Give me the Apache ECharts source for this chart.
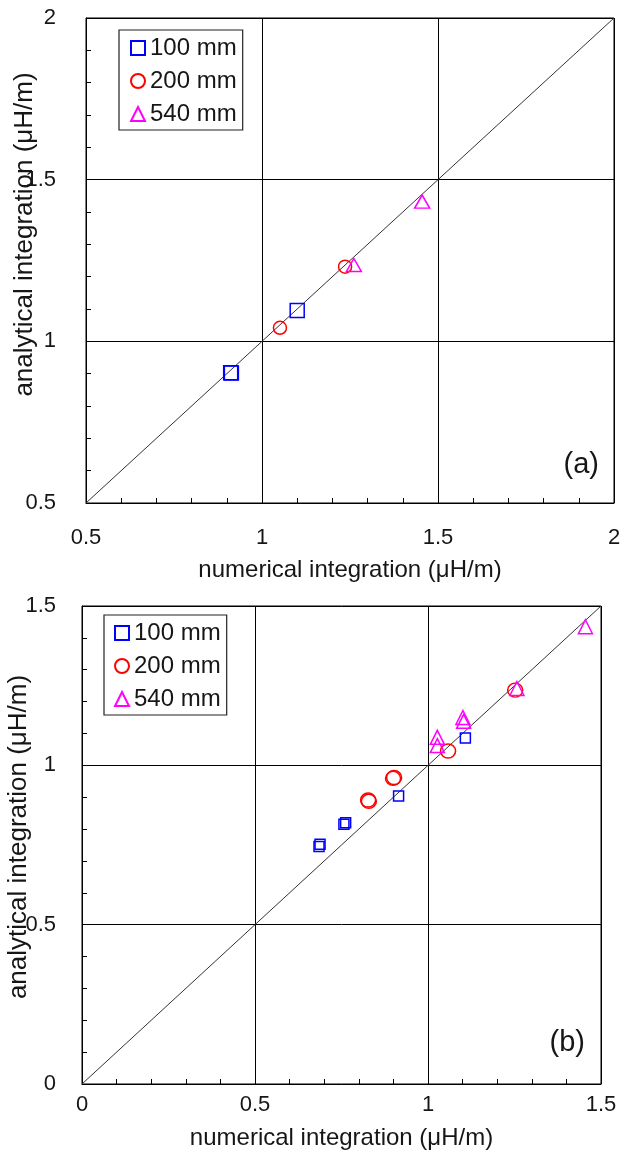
<!DOCTYPE html>
<html><head><meta charset="utf-8">
<script src="https://cdn.jsdelivr.net/npm/echarts@6/dist/echarts.min.js"></script>
<style>html,body{margin:0;padding:0;background:#fff}#c{width:626px;height:1164px}</style>
</head><body><div id="c"></div>
<script>
// ---- data ----
const seriesNames = ['100 mm', '200 mm', '540 mm'];
const rangeA = [0.5, 2];
const rangeB = [0, 1.5];
const tickStep = 0.5;
const xTitle = 'numerical integration (μH/m)';
const yTitle = 'analytical integration (μH/m)';
const panelLabels = ['(a)', '(b)'];

// panel (a)
const a100 = [[0.911, 0.903], [0.913, 0.902], [1.100, 1.095]];
const a200 = [[1.051, 1.042], [1.236, 1.231]];
const a540 = [[1.261, 1.236], [1.455, 1.432]];
const diagA = [[0.5, 0.5], [2, 2]];

// panel (b)
const b100 = [[0.685, 0.745], [0.688, 0.752], [0.757, 0.815], [0.762, 0.820], [0.915, 0.904], [1.108, 1.086]];
const b200 = [[0.827, 0.891], [0.829, 0.887], [0.899, 0.959], [0.902, 0.962], [1.058, 1.045], [1.252, 1.236]];
const b540 = [[1.027, 1.088], [1.027, 1.062], [1.101, 1.150], [1.103, 1.138], [1.257, 1.241], [1.455, 1.435]];
const diagB = [[0, 0], [1.5, 1.5]];

// ---- styling ----
const FONT = 'Liberation Sans, Arial, sans-serif';
const TXT = '#161616';
const colors = ['#0000ff', '#ff0000', '#ff00ff'];
const symbols = ['rect', 'circle', 'triangle'];

function xAxisCfg(idx, range, labelMargin, nameGap) {
  return {
    gridIndex: idx, type: 'value', min: range[0], max: range[1], interval: tickStep,
    name: xTitle, nameLocation: 'middle', nameGap: nameGap, nameMoveOverlap: false,
    nameTextStyle: { fontFamily: FONT, fontSize: 24, color: TXT },
    axisLine: { show: true, lineStyle: { color: '#000', width: 1 } },
    axisTick: { show: true, inside: true, length: 5, lineStyle: { color: '#000' } },
    minorTick: { show: true, splitNumber: 5, length: 5, lineStyle: { color: '#000' } },
    splitLine: { show: true, lineStyle: { color: '#000', width: 1 } },
    axisLabel: { fontFamily: FONT, fontSize: 22, color: TXT, margin: labelMargin, hideOverlap: false }
  };
}
function yAxisCfg(idx, range, labelMargin, nameGap, shift) {
  return {
    gridIndex: idx, type: 'value', min: range[0], max: range[1], interval: tickStep,
    name: yTitle, nameLocation: 'middle', nameGap: nameGap, nameMoveOverlap: false,
    nameTextStyle: { fontFamily: FONT, fontSize: 26, color: TXT, padding: [0, 0, 0, shift] },
    axisLine: { show: true, lineStyle: { color: '#000', width: 1 } },
    axisTick: { show: true, inside: true, length: 5, lineStyle: { color: '#000' } },
    minorTick: { show: true, splitNumber: 5, length: 5, lineStyle: { color: '#000' } },
    splitLine: { show: true, lineStyle: { color: '#000', width: 1 } },
    axisLabel: { fontFamily: FONT, fontSize: 22, color: TXT, margin: labelMargin, hideOverlap: false }
  };
}
function scatter(name, data, idx, k, size) {
  return {
    type: 'scatter', name: name, data: data, xAxisIndex: idx, yAxisIndex: idx,
    symbol: symbols[k], symbolSize: size, z: 5,
    itemStyle: { color: 'rgba(0,0,0,0)', borderColor: colors[k], borderWidth: 1.5, opacity: 1 },
    emphasis: { disabled: true }
  };
}
function diag(data, idx) {
  return {
    type: 'line', data: data, xAxisIndex: idx, yAxisIndex: idx, symbol: 'none', silent: true, z: 3,
    lineStyle: { color: '#333', width: 1 }, emphasis: { disabled: true }
  };
}
function legendCfg(left, top, padLeft) {
  return {
    orient: 'vertical', left: left, top: top, data: seriesNames,
    backgroundColor: '#fff', borderColor: '#222', borderWidth: 1.2, borderRadius: 0,
    padding: [5, 6, 3, padLeft], itemGap: 7, itemWidth: 14, itemHeight: 14, itemTextGap: 5,
    selectedMode: false,
    textStyle: { fontFamily: FONT, fontSize: 24, color: TXT, lineHeight: 26 }
  };
}

const chart = echarts.init(document.getElementById('c'), null, { renderer: 'canvas' });
chart.setOption({
  animation: false,
  backgroundColor: '#fff',
  title: [
    { text: panelLabels[0], right: 27, top: 450, padding: 0, textStyle: { fontFamily: FONT, fontSize: 29, fontWeight: 'normal', color: TXT } },
    { text: panelLabels[1], right: 41, top: 1028, padding: 0, textStyle: { fontFamily: FONT, fontSize: 29, fontWeight: 'normal', color: TXT } }
  ],
  grid: [
    { left: 86, top: 18, width: 528, height: 485, show: true, borderColor: '#000', borderWidth: 1, backgroundColor: 'transparent', outerBoundsMode: 'none', containLabel: false },
    { left: 82, top: 606, width: 519, height: 478, show: true, borderColor: '#000', borderWidth: 1, backgroundColor: 'transparent', outerBoundsMode: 'none', containLabel: false }
  ],
  xAxis: [xAxisCfg(0, rangeA, 24, 55), xAxisCfg(1, rangeB, 10, 42)],
  yAxis: [yAxisCfg(0, rangeA, 30, 48, 52), yAxisCfg(1, rangeB, 26, 50, 16)],
  legend: [legendCfg(119, 30, 11), legendCfg(104, 615, 10)],
  series: [
    diag(diagA, 0),
    scatter(seriesNames[0], a100, 0, 0, 14),
    scatter(seriesNames[1], a200, 0, 1, 13),
    scatter(seriesNames[2], a540, 0, 2, [15, 13]),
    diag(diagB, 1),
    scatter(seriesNames[0], b100, 1, 0, 10),
    scatter(seriesNames[1], b200, 1, 1, [15, 14]),
    scatter(seriesNames[2], b540, 1, 2, [14, 14])
  ]
});
</script>
</body></html>
